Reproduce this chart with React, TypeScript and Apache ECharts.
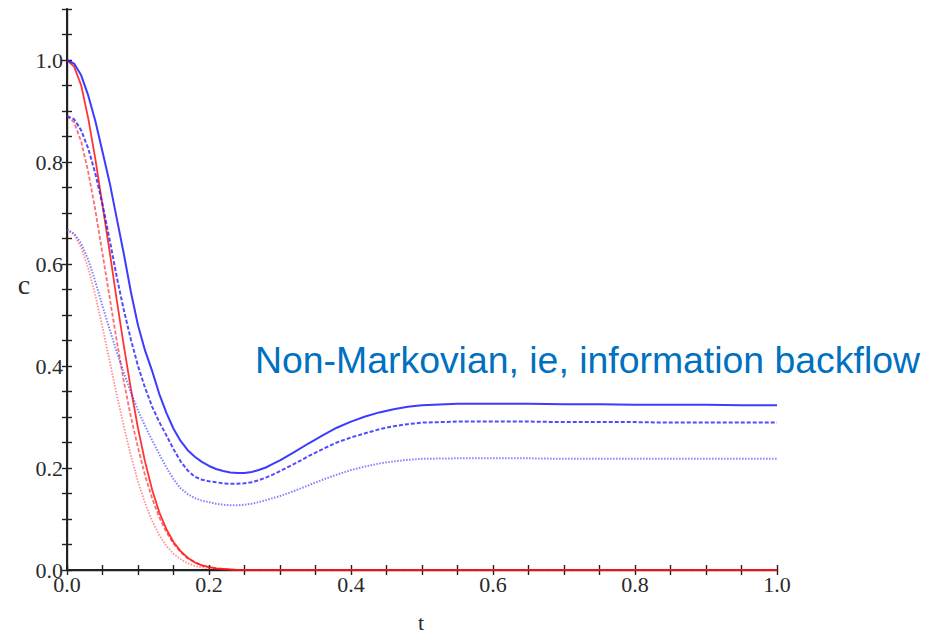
import React, { useEffect, useRef } from "react";
import * as echarts from "echarts";

// time axis values
const tValues = [
  0, 0.01, 0.02, 0.03, 0.04, 0.05, 0.06, 0.07, 0.08, 0.09,
  0.1, 0.11, 0.12, 0.13, 0.14, 0.15, 0.16, 0.17, 0.18, 0.19,
  0.2, 0.21, 0.22, 0.23, 0.24, 0.25, 0.26, 0.27, 0.28, 0.29,
  0.3, 0.32, 0.34, 0.36, 0.38, 0.4, 0.42, 0.44, 0.46, 0.48,
  0.5, 0.55, 0.6, 0.65, 0.7, 0.75, 0.8, 0.85, 0.9, 0.95, 1.0,
];

// non-Markovian (blue) curves
const blueSolid = [
  1.0, 0.993, 0.97, 0.93, 0.88, 0.82, 0.76, 0.69, 0.62, 0.545,
  0.48, 0.43, 0.39, 0.345, 0.308, 0.277, 0.253, 0.235, 0.222, 0.212,
  0.204, 0.198, 0.194, 0.191, 0.19, 0.19, 0.192, 0.196, 0.201, 0.208,
  0.215, 0.231, 0.248, 0.264, 0.279, 0.291, 0.301, 0.309, 0.315, 0.32,
  0.323, 0.326, 0.326, 0.326, 0.325, 0.325, 0.324, 0.324, 0.324, 0.323, 0.323,
];
const blueDashed = [
  0.89, 0.884, 0.862, 0.826, 0.777, 0.717, 0.648, 0.575, 0.51, 0.452,
  0.4, 0.357, 0.32, 0.29, 0.264, 0.237, 0.213, 0.195, 0.183, 0.177,
  0.174, 0.172, 0.17, 0.169, 0.169, 0.17, 0.172, 0.176, 0.181, 0.187,
  0.194, 0.208, 0.223, 0.237, 0.25, 0.26, 0.268, 0.276, 0.282, 0.286,
  0.289, 0.291, 0.291, 0.291, 0.29, 0.29, 0.29, 0.289, 0.289, 0.289, 0.289,
];
const blueDotted = [
  0.667, 0.66, 0.64, 0.608, 0.565, 0.518, 0.472, 0.428, 0.387, 0.348,
  0.313, 0.282, 0.254, 0.227, 0.201, 0.178, 0.16, 0.149, 0.141, 0.136,
  0.133, 0.13, 0.128, 0.127, 0.127, 0.128, 0.13, 0.133, 0.137, 0.141,
  0.145, 0.155, 0.166, 0.177, 0.187, 0.196, 0.203, 0.209, 0.213, 0.216,
  0.218, 0.219, 0.219, 0.219, 0.218, 0.218, 0.218, 0.218, 0.218, 0.218, 0.218,
];

// Markovian (red) curves
const redSolid = [
  1.0, 0.987, 0.95, 0.885, 0.805, 0.715, 0.625, 0.53, 0.44, 0.355,
  0.278, 0.212, 0.157, 0.113, 0.08, 0.055, 0.037, 0.024, 0.015, 0.009,
  0.006, 0.003, 0.002, 0.001, 0, 0, 0, 0, 0, 0,
  0, 0, 0, 0, 0, 0, 0, 0, 0, 0,
  0, 0, 0, 0, 0, 0, 0, 0, 0, 0, 0,
];
const redDashed = [
  0.89, 0.878, 0.84, 0.78, 0.705, 0.62, 0.535, 0.45, 0.37, 0.3,
  0.24, 0.185, 0.14, 0.103, 0.074, 0.052, 0.035, 0.023, 0.015, 0.009,
  0.005, 0.003, 0.002, 0.001, 0, 0, 0, 0, 0, 0,
  0, 0, 0, 0, 0, 0, 0, 0, 0, 0,
  0, 0, 0, 0, 0, 0, 0, 0, 0, 0, 0,
];
const redDotted = [
  0.667, 0.658, 0.632, 0.591, 0.538, 0.476, 0.41, 0.344, 0.282, 0.224,
  0.173, 0.131, 0.096, 0.068, 0.047, 0.032, 0.021, 0.013, 0.008, 0.005,
  0.003, 0.002, 0.001, 0, 0, 0, 0, 0, 0, 0,
  0, 0, 0, 0, 0, 0, 0, 0, 0, 0,
  0, 0, 0, 0, 0, 0, 0, 0, 0, 0, 0,
];

const annotation = "Non-Markovian, ie, information backflow";
const xName = "t";
const yName = "c";

const AXIS_COLOR = "#222";
const LABEL_FONT = "'Liberation Serif', 'DejaVu Serif', serif";

function majorLabel(v: number): string {
  const k = v / 0.2;
  if (Math.abs(k - Math.round(k)) < 1e-6 && v <= 1.0001) return v.toFixed(1);
  return "";
}

export default function App() {
  const ref = useRef<HTMLDivElement>(null);

  useEffect(() => {
    if (!ref.current) return;
    const chart = echarts.init(ref.current, null, { renderer: "svg" });

    const mk = (vals: number[], color: string, type: any, width: number, opacity: number, z: number) => ({
      type: "line",
      data: tValues.map((t, i) => [t, vals[i]]),
      symbol: "none",
      showSymbol: false,
      xAxisIndex: 0,
      yAxisIndex: 0,
      z,
      lineStyle: { color, type, width, opacity },
      emphasis: { disabled: true },
    });

    const tickCfg = {
      show: true,
      inside: true,
      length: 5,
      lineStyle: { color: AXIS_COLOR, width: 1.4 },
    };

    chart.setOption({
      animation: false,
      backgroundColor: "#ffffff",
      grid: { left: 67, top: 9, width: 710, height: 561, containLabel: false },
      xAxis: [
        {
          type: "value",
          position: "bottom",
          min: 0,
          max: 1,
          interval: 0.05,
          axisLine: { show: true, lineStyle: { color: AXIS_COLOR, width: 2 } },
          axisTick: tickCfg,
          splitLine: { show: false },
          axisLabel: {
            show: true,
            margin: 3,
            fontFamily: LABEL_FONT,
            fontSize: 22,
            color: "#2a2a2a",
            formatter: majorLabel,
          },
        },
        {
          type: "value",
          position: "top",
          min: 0,
          max: 1,
          interval: 0.05,
          axisLine: { show: true, lineStyle: { color: AXIS_COLOR, width: 1.4 } },
          axisTick: tickCfg,
          splitLine: { show: false },
          axisLabel: { show: false },
        },
      ],
      yAxis: [
        {
          type: "value",
          position: "left",
          min: 0,
          max: 1.1,
          interval: 0.05,
          axisLine: { show: true, lineStyle: { color: AXIS_COLOR, width: 2 } },
          axisTick: tickCfg,
          splitLine: { show: false },
          axisLabel: {
            show: true,
            margin: 4,
            fontFamily: LABEL_FONT,
            fontSize: 22,
            color: "#2a2a2a",
            formatter: majorLabel,
          },
        },
        {
          type: "value",
          position: "right",
          min: 0,
          max: 1.1,
          interval: 0.05,
          axisLine: { show: true, lineStyle: { color: AXIS_COLOR, width: 1.4 } },
          axisTick: tickCfg,
          splitLine: { show: false },
          axisLabel: { show: false },
        },
      ],
      series: [
        mk(redDotted, "#ff2020", [1.5, 1.5], 1.8, 0.5, 2),
        mk(redDashed, "#ff2020", [4, 2], 1.8, 0.65, 2),
        mk(redSolid, "#ff1010", "solid", 1.8, 0.85, 2),
        mk(blueDotted, "#3030ff", [1.5, 1.5], 2, 0.6, 3),
        mk(blueDashed, "#2020ff", [4, 2], 2, 0.8, 3),
        mk(blueSolid, "#1a1aff", "solid", 2, 0.85, 3),
      ],
      graphic: [
        {
          type: "text",
          x: 24,
          y: 284,
          z: 10,
          style: {
            text: yName,
            fontFamily: LABEL_FONT,
            fontSize: 28,
            fill: "#2a2a2a",
            align: "center",
            verticalAlign: "middle",
          },
        },
        {
          type: "text",
          x: 421,
          y: 622,
          z: 10,
          style: {
            text: xName,
            fontFamily: LABEL_FONT,
            fontSize: 22,
            fill: "#2a2a2a",
            align: "center",
            verticalAlign: "middle",
          },
        },
        {
          type: "text",
          x: 255,
          y: 360,
          z: 100,
          style: {
            text: annotation,
            fontFamily: "'Liberation Sans', Arial, sans-serif",
            fontSize: 37.4,
            fill: "#0070c0",
            align: "left",
            verticalAlign: "middle",
          },
        },
      ],
    });

    return () => chart.dispose();
  }, []);

  return (
    <div
      ref={ref}
      style={{ position: "absolute", left: 0, top: 0, width: 933, height: 633, background: "#fff" }}
    />
  );
}
